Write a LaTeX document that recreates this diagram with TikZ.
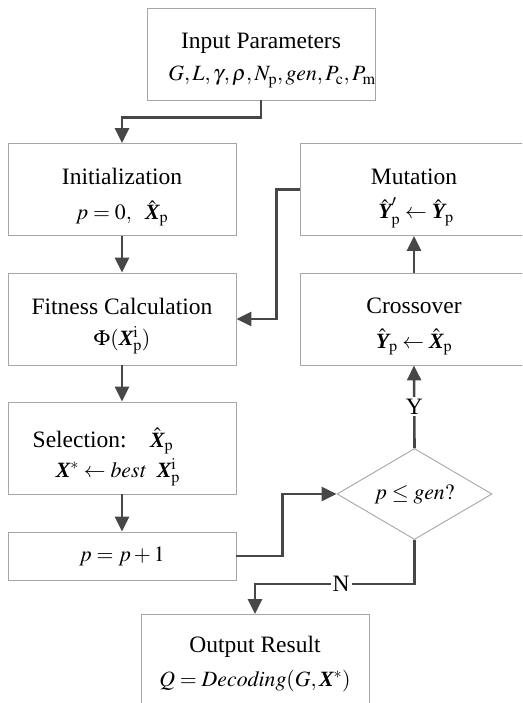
\documentclass[tikz,border=0pt]{standalone}
\usepackage{amsmath}
\usepackage{mathptmx}
\usepackage[no-math]{fontspec}
\setmainfont{Liberation Serif}
\usetikzlibrary{arrows.meta,shapes.geometric,calc}
\definecolor{boxgray}{HTML}{A6A6A6}
\definecolor{arrgray}{HTML}{474747}
\newcommand\BX{\text{\bfseries\itshape X}}
\newcommand\BY{\text{\bfseries\itshape Y}}
\newcommand\sbp[1]{_{\mathrm{#1}}}
\begin{document}
\begin{tikzpicture}[x=1pt,y=-1pt,
  box/.style={draw=boxgray, line width=0.9pt, fill=white, minimum width=228pt, minimum height=92pt, inner sep=0pt},
  txt/.style={inner sep=0pt, font=\fontsize{23.5}{28}\selectfont},
  mth/.style={inner sep=0pt, font=\fontsize{21.8}{26}\selectfont},
  arr/.style={draw=arrgray, line width=2.6pt, -{Triangle[length=15pt,width=14pt]}},
  lbl/.style={fill=white, inner sep=2pt, font=\fontsize{23.5}{28}\selectfont}]
\clip (0,0) rectangle (522,703);
\fill[white] (0,0) rectangle (522,703);
% boxes
\node[box] (inp) at (261,54) {};
\node[box] (init) at (122,189.5) {};
\node[box] (fit) at (122,319) {};
\node[box] (sel) at (122,448) {};
\node[box, minimum height=48pt] (inc) at (122,556) {};
\node[box] (mut) at (414,189.5) {};
\node[box] (cro) at (414,319) {};
\node[box] (out) at (255,660.5) {};
\node[diamond, draw=boxgray, line width=0.9pt, fill=white, minimum width=155pt, minimum height=91pt, inner sep=0pt, shape aspect=1.7, font=\fontsize{21.8}{26}\selectfont] (dia) at (414.5,494) {$p \le \mathit{gen}?$};
% texts
\node[txt] (inpT) at ($(inp.center)+(0,-11)$) {Input Parameters};
\node[mth] (inpF) at ($(inp.center)+(11,23)$) {$G, L, \gamma, \rho, N\sbp{p}, \mathit{gen}, P\sbp{c}, P\sbp{m}$};
\node[txt] (initT) at ($(init.center)+(0,-13)$) {Initialization};
\node[mth] (initF) at ($(init.center)+(0,24)$) {$p = 0,\ \ \hat{\BX}\sbp{p}$};
\node[txt] (fitT) at ($(fit.center)+(0,-13)$) {Fitness Calculation};
\node[mth] (fitF) at ($(fit.center)+(0,21)$) {$\Phi(\BX^{\mathrm{i}}\sbp{p})$};
\node[txt] (selT) at (103,441) {Selection:\quad \fontsize{21.8}{26}\selectfont$\hat{\BX}\sbp{p}$};
\node[mth] (selF) at (118,472) {$\BX^{*} \leftarrow \mathit{best}\ \ \BX^{\mathrm{i}}\sbp{p}$};
\node[mth] (incT) at (inc.center) {$p = p+1$};
\node[txt] (mutT) at ($(mut.center)+(0,-13)$) {Mutation};
\node[mth] (mutF) at ($(mut.center)+(2,23)$) {$\hat{\BY}'\sbp{p} \leftarrow \hat{\BY}\sbp{p}$};
\node[txt] (croT) at ($(cro.center)+(0,-13)$) {Crossover};
\node[mth] (croF) at ($(cro.center)+(0,23)$) {$\hat{\BY}\sbp{p} \leftarrow \hat{\BX}\sbp{p}$};
\node[txt] (outT) at ($(out.center)+(0,-14)$) {Output Result};
\node[mth] (outF) at ($(out.center)+(0,21)$) {$Q = \mathit{Decoding}(G, \BX^{*})$};
% connectors
\draw[arr] (inp.south) -- ++(0,17) -| (init.north);
\draw[arr] (init.south) -- (fit.north);
\draw[arr] (fit.south) -- (sel.north);
\draw[arr] (sel.south) -- (inc.north);
\draw[arr] (inc.east) -- ++(46,0) |- (dia.west);
\draw[arr] (dia.north) -- node[lbl]{Y} (cro.south);
\draw[arr] (cro.north) -- (mut.south);
\draw[arr] (mut.west) -- ++(-23,0) |- (fit.east);
\draw[arr] (dia.south) -- ++(0,44) -| node[lbl,pos=0.23]{N} (out.north);
\end{tikzpicture}
\end{document}
